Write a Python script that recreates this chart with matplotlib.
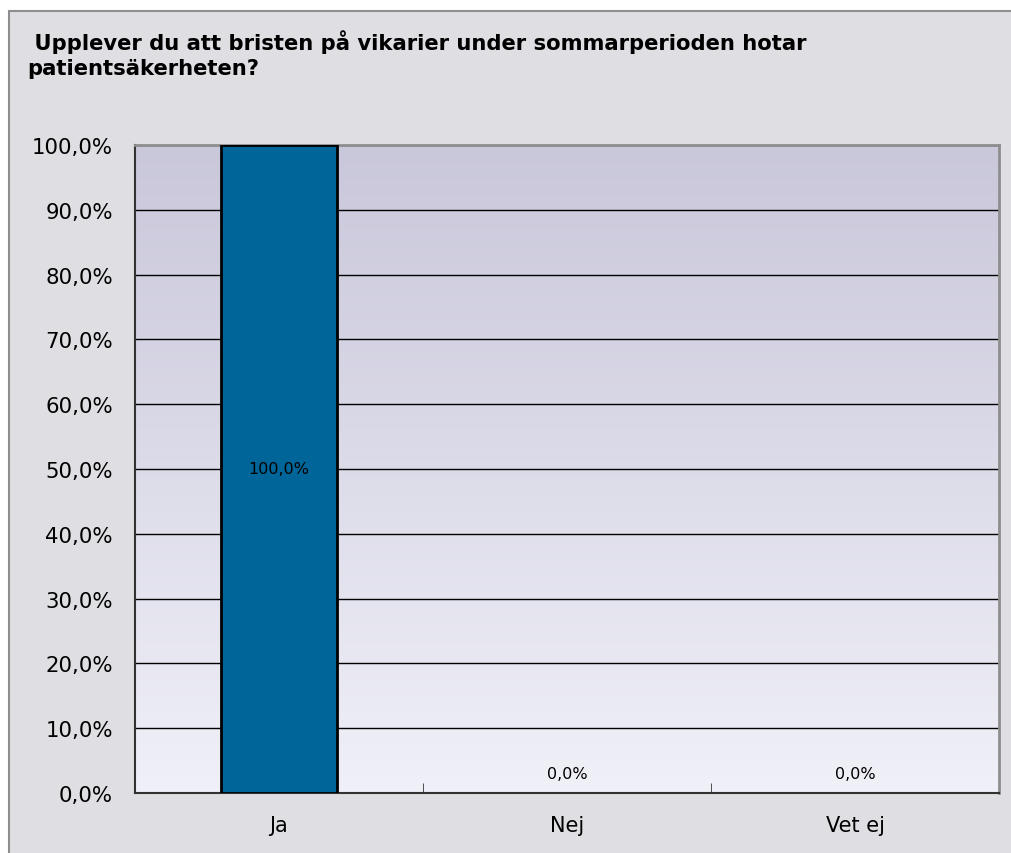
import matplotlib
matplotlib.use("Agg")
import matplotlib.pyplot as plt
import numpy as np
from matplotlib.patches import Rectangle
from matplotlib.colors import LinearSegmentedColormap
from matplotlib.ticker import FuncFormatter

categories = ["Ja", "Nej", "Vet ej"]
values = [100.0, 0.0, 0.0]
title = " Upplever du att bristen på vikarier under sommarperioden hotar\npatientsäkerheten?"

plt.rcParams['font.family'] = ['DejaVu Sans']

fig = plt.figure(figsize=(10.11, 8.54), dpi=100)
fig.patch.set_facecolor("white")

# outer chart frame
frame = Rectangle((9 / 1011, -0.01), 1.02, 1 - 12 / 854 + 0.01, transform=fig.transFigure,
                  facecolor="#dfdee3", edgecolor="#8e8e8e", linewidth=1.5, zorder=-5)
fig.patches.append(frame)

fig.text(27 / 1011, 1 - 30 / 854, title, fontsize=15.2, fontweight="bold",
         ha="left", va="top", linespacing=1.3)

ax = fig.add_axes([135 / 1011, 1 - 794 / 854, 864 / 1011, 648 / 854])
ax.set_facecolor("none")

# vertical gradient background of the plot area
cmap = LinearSegmentedColormap.from_list("bg", ["#f0f0f8", "#c9c7da"])
grad = np.linspace(0, 1, 256).reshape(-1, 1)
ax.imshow(grad, cmap=cmap, origin="lower", aspect="auto",
          extent=[0, 1, 0, 1], transform=ax.transAxes, zorder=0)

x = np.arange(len(categories))
edge_w = [2 if v > 0 else 0 for v in values]
ax.bar(x, values, width=0.4, color="#006699", edgecolor="black", linewidth=edge_w, zorder=3)

for xi, v in zip(x, values):
    label = f"{v:.1f}%".replace(".", ",")
    y = v / 2 if v > 5 else v + 1.8
    ax.text(xi, y, label, ha="center", va="bottom" if v <= 5 else "center",
            fontsize=11.5, color="black", zorder=4)

ax.set_xlim(-0.5, len(categories) - 0.5)
ax.set_ylim(0, 100)
ax.set_yticks(np.arange(0, 101, 10))
ax.yaxis.set_major_formatter(FuncFormatter(lambda v, p: f"{v:.1f}%".replace(".", ",")))
ax.yaxis.grid(True, color="black", linewidth=1.0, zorder=1)
ax.set_axisbelow(True)

ax.set_xticks(x)
ax.set_xticklabels(categories)
ax.set_xticks(np.arange(0.5, len(categories) - 0.5, 1), minor=True)
ax.tick_params(axis="x", which="major", length=0, pad=16, labelsize=15)
ax.tick_params(axis="x", which="minor", direction="in", length=7, color="#333333")
ax.tick_params(axis="y", length=0, labelsize=15.3, pad=16)

for side in ["left", "bottom"]:
    ax.spines[side].set_color("#333333")
    ax.spines[side].set_linewidth(1.5)
for side in ["top", "right"]:
    ax.spines[side].set_color("#8e8e8e")
    ax.spines[side].set_linewidth(2)

fig.savefig("out.png", dpi=100, facecolor=fig.get_facecolor())
